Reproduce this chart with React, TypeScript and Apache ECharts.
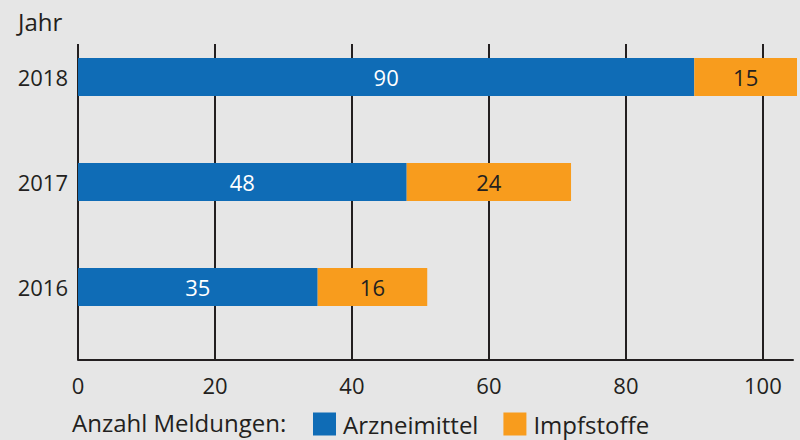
import React, { useEffect, useRef } from "react";
import * as echarts from "echarts";

const years = ["2016", "2017", "2018"];
const arzneimittel = [35, 48, 90];
const impfstoffe = [16, 24, 15];
const seriesNames = ["Arzneimittel", "Impfstoffe"];
const xTickInterval = 20;

const FONT = "'Open Sans', 'Noto Sans', sans-serif";
const DARK = "#231f20";

export default function App() {
  const ref = useRef<HTMLDivElement>(null);
  useEffect(() => {
    if (!ref.current) return;
    const chart = echarts.init(ref.current, undefined, { renderer: "svg" });
    chart.setOption({
      animation: false,
      backgroundColor: "#e6e6e6",
      textStyle: { fontFamily: FONT },
      grid: [
        { left: 78, top: 24.5, width: 719, height: 315 },
        { left: 78, top: 44, width: 715, height: 316 },
      ],
      xAxis: [
        { gridIndex: 0, type: "value", min: 0, max: 105, show: false },
        {
          gridIndex: 1,
          type: "value",
          min: 0,
          max: 104.4,
          interval: xTickInterval,
          axisLine: { show: true, lineStyle: { color: DARK, width: 2 } },
          axisTick: { show: false },
          splitLine: { show: true, showMaxLine: false, lineStyle: { color: DARK, width: 2 } },
          axisLabel: { showMaxLabel: false, color: DARK, fontSize: 22, margin: 14, fontFamily: FONT },
        },
      ],
      yAxis: [
        {
          gridIndex: 0,
          type: "category",
          data: years,
          axisLine: { show: false },
          axisTick: { show: false },
          splitLine: { show: false },
          axisLabel: { color: DARK, fontSize: 22, margin: 10, fontFamily: FONT },
        },
        { gridIndex: 1, type: "value", show: false, splitLine: { show: false } },
      ],
      legend: {
        left: 313,
        top: 412,
        padding: 0,
        icon: "rect",
        itemWidth: 23,
        itemHeight: 23,
        itemGap: 25,
        data: seriesNames,
        textStyle: { color: DARK, fontSize: 24, fontFamily: FONT, padding: [0, 0, 0, 2] },
      },
      graphic: [
        {
          type: "text",
          left: 18,
          top: 9,
          style: { text: "Jahr", fill: DARK, font: `24px ${FONT}` },
        },
        {
          type: "text",
          left: 72,
          top: 410,
          style: { text: "Anzahl Meldungen:", fill: DARK, font: `24px ${FONT}` },
        },
      ],
      series: [
        {
          name: seriesNames[0],
          type: "bar",
          stack: "total",
          xAxisIndex: 0,
          yAxisIndex: 0,
          barWidth: 38,
          data: arzneimittel,
          itemStyle: { color: "#0f6cb6" },
          label: { show: true, position: "inside", color: "#ffffff", fontSize: 22, fontFamily: FONT },
        },
        {
          name: seriesNames[1],
          type: "bar",
          stack: "total",
          xAxisIndex: 0,
          yAxisIndex: 0,
          barWidth: 38,
          data: impfstoffe,
          itemStyle: { color: "#f89c1d" },
          label: { show: true, position: "inside", color: DARK, fontSize: 22, fontFamily: FONT },
        },
      ],
    });
    return () => chart.dispose();
  }, []);
  return (
    <div
      ref={ref}
      style={{ position: "fixed", left: 0, top: 0, width: 800, height: 440 }}
    />
  );
}
